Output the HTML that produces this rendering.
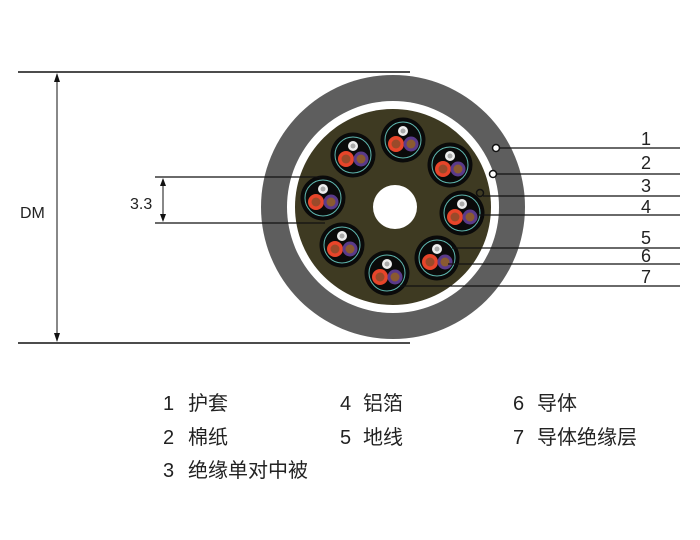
<!DOCTYPE html>
<html><head><meta charset="utf-8"><style>
html,body{margin:0;padding:0;background:#fff;}
svg{display:block;}
text{font-family:"Liberation Sans","Noto Sans CJK SC",sans-serif;fill:#222;}
</style></head><body>
<svg width="700" height="540" viewBox="0 0 700 540" xmlns="http://www.w3.org/2000/svg">
<defs>
<g id="u">
<circle r="22.5" fill="#0a0a0a"/>
<circle r="18" fill="none" stroke="#5fb8b0" stroke-width="1"/>
<circle cx="0" cy="-9" r="5" fill="#eee"/>
<circle cx="0" cy="-9" r="2.5" fill="#aaa"/>
<circle cx="-7" cy="4" r="8" fill="#e8452a"/>
<circle cx="-7" cy="4" r="4.5" fill="#9a4a2a"/>
<circle cx="8" cy="4" r="7.5" fill="#5a3a8a"/>
<circle cx="8" cy="4" r="4.5" fill="#8a5a30"/>
</g>
</defs>
<line x1="18" y1="72" x2="410" y2="72" stroke="#111" stroke-width="1.5"/>
<line x1="18" y1="343" x2="410" y2="343" stroke="#111" stroke-width="1.5"/>
<line x1="57" y1="74" x2="57" y2="341" stroke="#111" stroke-width="1"/>
<polygon points="57,73 54,82 60,82" fill="#111"/>
<polygon points="57,342 54,333 60,333" fill="#111"/>
<text x="20" y="218" font-size="16">DM</text>
<circle cx="393" cy="207" r="132" fill="#5e5e5e"/>
<circle cx="393" cy="207" r="106" fill="#fff"/>
<circle cx="393" cy="207" r="98" fill="#3e3a22"/>
<circle cx="395" cy="207" r="22" fill="#fff"/>
<use href="#u" x="403" y="140"/>
<use href="#u" x="353" y="155"/>
<use href="#u" x="450" y="165"/>
<use href="#u" x="323" y="198"/>
<use href="#u" x="462" y="213"/>
<use href="#u" x="342" y="245"/>
<use href="#u" x="437" y="258"/>
<use href="#u" x="387" y="273"/>
<line x1="155" y1="177" x2="320" y2="177" stroke="#111" stroke-width="1.2"/>
<line x1="155" y1="223" x2="325" y2="223" stroke="#111" stroke-width="1.2"/>
<line x1="163" y1="179" x2="163" y2="221" stroke="#111" stroke-width="1"/>
<polygon points="163,178 160,186 166,186" fill="#111"/>
<polygon points="163,222 160,214 166,214" fill="#111"/>
<text x="130" y="209" font-size="16">3.3</text>
<g stroke="#111" stroke-width="1.2" fill="none">
<line x1="500" y1="148" x2="680" y2="148"/>
<circle cx="496" cy="148" r="3.5" fill="#fff" stroke-width="1.5"/>
<line x1="496" y1="174" x2="680" y2="174"/>
<circle cx="493" cy="174" r="3.5" fill="#fff" stroke-width="1.5"/>
<line x1="483" y1="196" x2="680" y2="196"/>
<circle cx="480" cy="193" r="3.5" fill="#3e3a22" stroke-width="1.5"/>
<line x1="478" y1="215" x2="680" y2="215"/>
<line x1="452" y1="248" x2="680" y2="248"/>
<line x1="448" y1="264" x2="680" y2="264"/>
<line x1="400" y1="286" x2="680" y2="286"/>
</g>
<g font-size="18">
<text x="641" y="145">1</text>
<text x="641" y="169">2</text>
<text x="641" y="192">3</text>
<text x="641" y="213">4</text>
<text x="641" y="244">5</text>
<text x="641" y="262">6</text>
<text x="641" y="283">7</text>
</g>
<g font-size="20" style="fill:#333">
<text x="163" y="410">1</text><text x="188" y="410">护套</text>
<text x="163" y="444">2</text><text x="188" y="444">棉纸</text>
<text x="163" y="477">3</text><text x="188" y="477">绝缘单对中被</text>
<text x="340" y="410">4</text><text x="363" y="410">铝箔</text>
<text x="340" y="444">5</text><text x="363" y="444">地线</text>
<text x="513" y="410">6</text><text x="537" y="410">导体</text>
<text x="513" y="444">7</text><text x="537" y="444">导体绝缘层</text>
</g>
</svg>
</body></html>
